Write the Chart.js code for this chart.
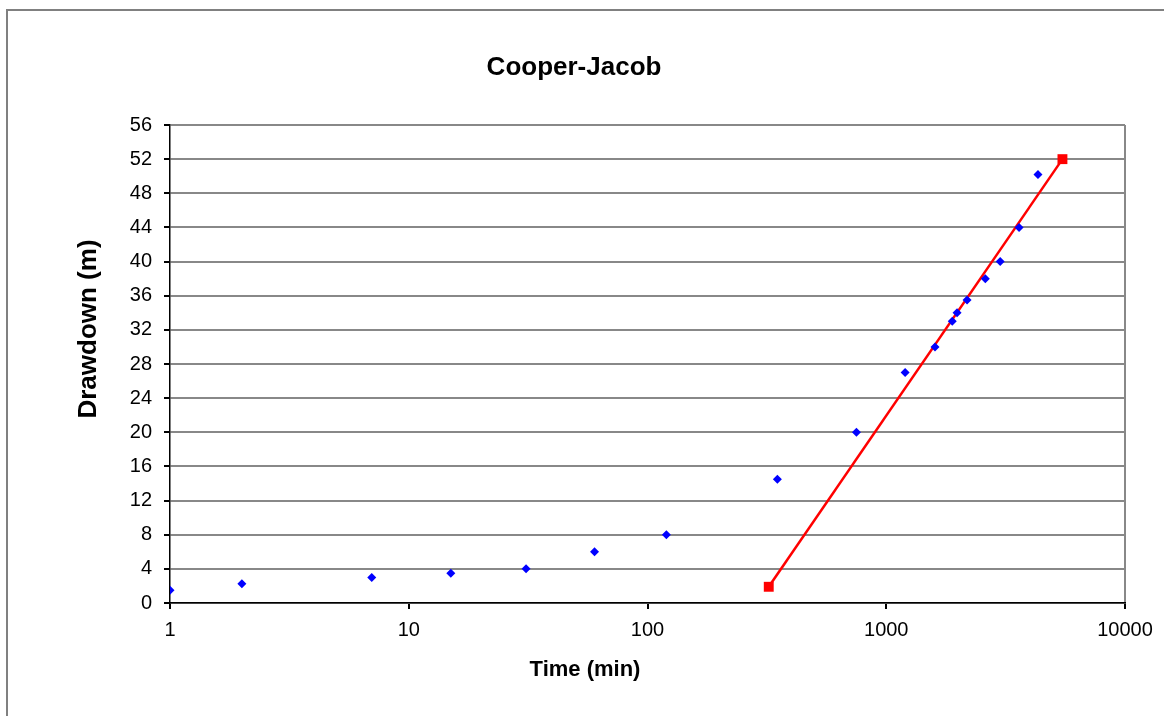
<!DOCTYPE html>
<html>
<head>
<meta charset="utf-8">
<script src="https://cdn.jsdelivr.net/npm/chart.js@4/dist/chart.umd.min.js"></script>
<style>
	html, body { margin: 0; padding: 0; background: #fff; overflow: hidden; }
	#frame {
		position: absolute; left: 6px; top: 9px; width: 1180px; height: 730px;
		border: 2px solid #808080; box-sizing: border-box;
	}
	#chart { position: absolute; left: 0; top: 0; }
</style>
</head>
<body>
<div id="frame"></div>
<canvas id="chart" width="1164" height="716"></canvas>
<script>
const chartTitle = 'Cooper-Jacob';
const xTitle = 'Time (min)';
const yTitle = 'Drawdown (m)';

// measured drawdown data
const times = [1, 2, 7, 15, 31, 60, 120, 350, 750, 1200, 1600, 1890, 1980, 2180, 2600, 3000, 3600, 4320];
const drawdown = [1.5, 2.25, 3, 3.5, 4, 6, 8, 14.5, 20, 27, 30, 33, 34, 35.5, 38, 40, 44, 50.2];

// straight-line fit
const fitTimes = [322, 5470];
const fitDrawdown = [1.9, 52];

const xTickValues = [1, 10, 100, 1000, 10000];

const FONT = 'Arial, "Liberation Sans", sans-serif';

const toPoints = (xs, ys) => xs.map((x, i) => ({ x, y: ys[i] }));

const titlesPlugin = {
	id: 'titles',
	afterDraw(chart) {
		const ctx = chart.ctx;
		ctx.save();
		ctx.fillStyle = '#000';
		ctx.textAlign = 'center';
		ctx.textBaseline = 'middle';

		ctx.font = `bold 26px ${FONT}`;
		ctx.fillText(chartTitle, 574, 68);

		ctx.font = `bold 22px ${FONT}`;
		ctx.fillText(xTitle, 585, 670);

		ctx.translate(89, 329);
		ctx.rotate(-Math.PI / 2);
		ctx.font = `bold 26px ${FONT}`;
		ctx.fillText(yTitle, 0, 0);
		ctx.restore();
	},
};

new Chart(document.getElementById('chart'), {
	type: 'scatter',
	data: {
		datasets: [
			{
				label: 'data',
				data: toPoints(times, drawdown),
				pointStyle: 'rectRot',
				pointRadius: 4.5,
				pointBorderWidth: 0,
				backgroundColor: '#0000ff',
				borderColor: '#0000ff',
				showLine: false,
			},
			{
				label: 'fit',
				data: toPoints(fitTimes, fitDrawdown),
				pointStyle: 'rect',
				pointRadius: 7,
				pointBorderWidth: 0,
				backgroundColor: '#ff0000',
				borderColor: '#ff0000',
				borderWidth: 2.5,
				showLine: true,
			},
		],
	},
	options: {
		responsive: false,
		animation: false,
		layout: {
			padding: { top: 125, right: 39, left: 0, bottom: 0 },
		},
		plugins: {
			legend: { display: false },
			tooltip: { enabled: false },
		},
		scales: {
			x: {
				type: 'logarithmic',
				min: 1,
				max: 10000,
				afterBuildTicks: (scale) => {
					scale.ticks = xTickValues.map((v) => ({ value: v }));
				},
				afterFit: (scale) => {
					scale.height = 113;
				},
				ticks: {
					color: '#000',
					font: { family: FONT, size: 20 },
					padding: 9,
					maxRotation: 0,
					autoSkip: false,
					callback: (v) => String(v),
				},
				grid: {
					color: (c) => (c.tick && c.tick.value === 10000 ? '#888' : 'rgba(0,0,0,0)'),
					lineWidth: 2,
					tickColor: '#000',
					tickLength: 6,
				},
				border: { color: '#000', width: 1.5 },
			},
			y: {
				min: 0,
				max: 56,
				afterFit: (scale) => {
					scale.width = 170;
				},
				ticks: {
					stepSize: 4,
					color: '#000',
					font: { family: FONT, size: 20 },
					padding: 12,
				},
				grid: {
					color: '#888',
					lineWidth: 2,
					tickColor: '#000',
					tickLength: 6,
				},
				border: { color: '#000', width: 1.5 },
			},
		},
	},
	plugins: [titlesPlugin],
});
</script>
</body>
</html>
